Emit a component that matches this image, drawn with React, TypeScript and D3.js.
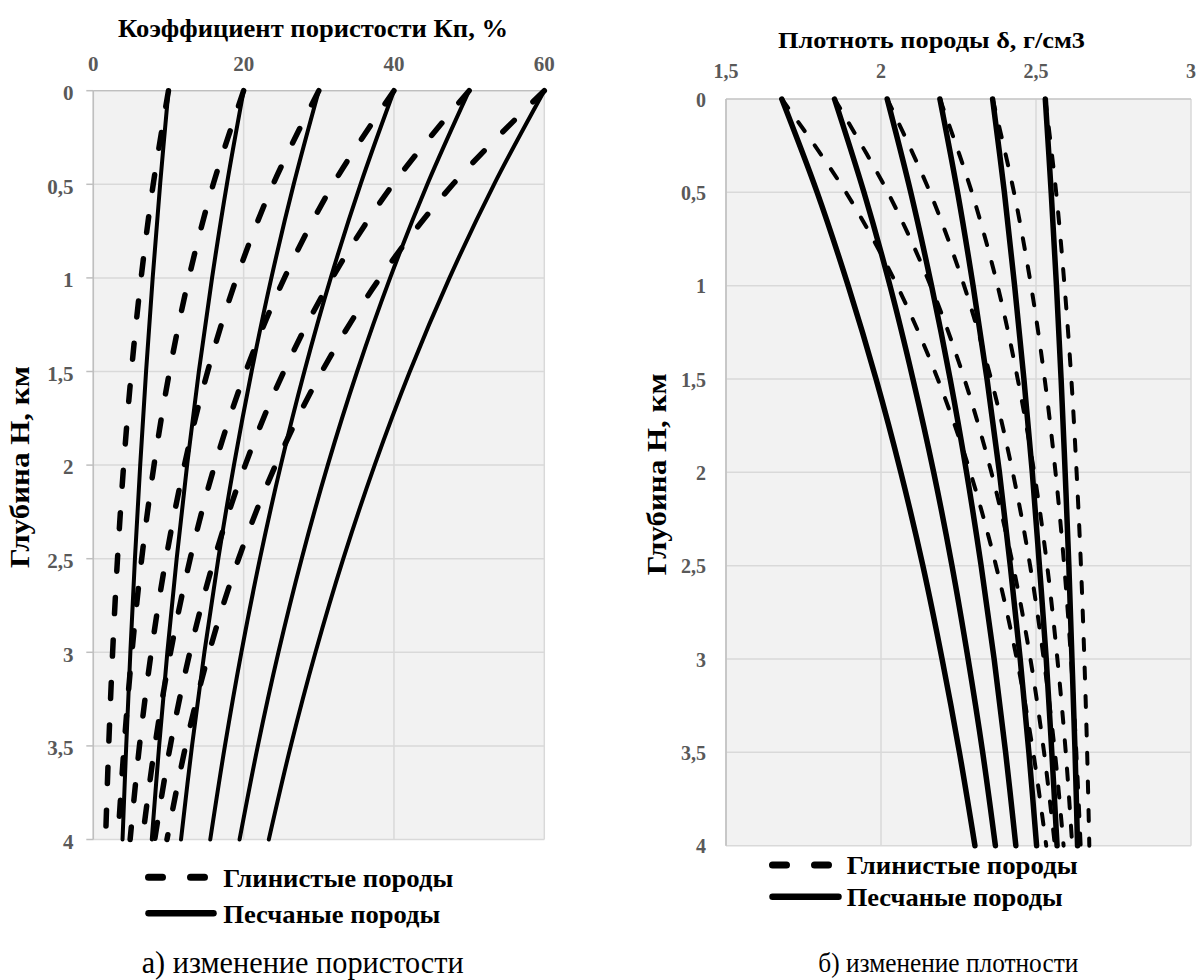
import React from "react";
import * as d3 from "d3";

// Depth points, km
const depths = [0, 0.5, 1, 1.5, 2, 2.5, 3, 3.5, 4];

// Porosity Kп, % — sandy rocks (solid)
const sandPorosity = [
  [10, 8.89, 7.9, 7.02, 6.24, 5.54, 4.93, 4.38, 3.89],
  [20, 17.77, 15.8, 14.04, 12.48, 11.09, 9.85, 8.76, 7.78],
  [30, 26.66, 23.69, 21.06, 18.71, 16.63, 14.78, 13.13, 11.67],
  [40, 35.55, 31.59, 28.08, 24.95, 22.17, 19.7, 17.51, 15.56],
  [50, 44.44, 39.49, 35.1, 31.19, 27.72, 24.63, 21.89, 19.46],
  [60, 53.32, 47.39, 42.11, 37.43, 33.26, 29.56, 26.27, 23.35],
];
// Porosity Kп, % — clayey rocks (dashed)
const clayPorosity = [
  [10, 7.97, 6.36, 5.07, 4.04, 3.22, 2.57, 2.05, 1.63],
  [20, 15.95, 12.71, 10.14, 8.08, 6.44, 5.14, 4.1, 3.27],
  [30, 23.92, 19.07, 15.21, 12.12, 9.67, 7.71, 6.14, 4.9],
  [40, 31.89, 25.43, 20.28, 16.16, 12.89, 10.28, 8.19, 6.53],
  [50, 39.87, 31.79, 25.35, 20.21, 16.11, 12.85, 10.24, 8.17],
  [60, 47.84, 38.14, 30.41, 24.25, 19.33, 15.41, 12.29, 9.8],
];
// Density δ, g/cm3 — sandy rocks (solid)
const sandDensity = [
  [1.68, 1.794, 1.894, 1.984, 2.064, 2.135, 2.197, 2.253, 2.303],
  [1.85, 1.945, 2.029, 2.103, 2.17, 2.229, 2.281, 2.328, 2.369],
  [2.02, 2.096, 2.163, 2.223, 2.276, 2.323, 2.365, 2.402, 2.435],
  [2.19, 2.247, 2.297, 2.342, 2.382, 2.417, 2.449, 2.477, 2.502],
  [2.36, 2.398, 2.431, 2.461, 2.488, 2.511, 2.533, 2.551, 2.568],
  [2.53, 2.549, 2.566, 2.581, 2.594, 2.606, 2.616, 2.626, 2.634],
];
// Density δ, g/cm3 — clayey rocks (dashed)
const clayDensity = [
  [1.68, 1.887, 2.052, 2.183, 2.288, 2.371, 2.438, 2.491, 2.533],
  [1.85, 2.022, 2.16, 2.269, 2.356, 2.426, 2.482, 2.526, 2.561],
  [2.02, 2.158, 2.268, 2.355, 2.425, 2.481, 2.525, 2.561, 2.589],
  [2.19, 2.293, 2.376, 2.441, 2.494, 2.536, 2.569, 2.596, 2.617],
  [2.36, 2.429, 2.484, 2.528, 2.563, 2.591, 2.613, 2.63, 2.644],
  [2.53, 2.565, 2.592, 2.614, 2.631, 2.645, 2.656, 2.665, 2.672],
];

const porosityTicks = [0, 20, 40, 60];
const porosityTickLabels = ["0", "20", "40", "60"];
const densityTicks = [1.5, 2, 2.5, 3];
const densityTickLabels = ["1,5", "2", "2,5", "3"];
const depthTicks = [0, 0.5, 1, 1.5, 2, 2.5, 3, 3.5, 4];
const depthTickLabels = ["0", "0,5", "1", "1,5", "2", "2,5", "3", "3,5", "4"];

const legendLabels = ["Глинистые породы", "Песчаные породы"];

const SERIF = "Liberation Serif, Tinos, Times New Roman, DejaVu Serif, serif";
const GRID = "#d9d9d9";
const AXIS = "#bfbfbf";
const LABEL = "#595959";

const serifStyle = { fontFamily: SERIF } as React.CSSProperties;

type PanelProps = {
  xDomain: [number, number];
  xRange: [number, number];
  yRange: [number, number];
  xTicks: number[];
  xTickLabels: string[];
  sand: number[][];
  clay: number[][];
  title: string;
  titleX: number;
  titleY: number;
  titleSize: number;
  titleLen: number;
  xLabelY: number;
  xLabelSize: number;
  yLabelRight: number;
  yLabelDy: number;
  yLabelSize: number;
  leftTicks: boolean;
  yTitleX: number;
  solidW: number;
  dashW: number;
  dashArray: string;
};

function Panel(p: PanelProps) {
  const x = d3.scaleLinear().domain(p.xDomain).range(p.xRange);
  const y = d3.scaleLinear().domain([0, 4]).range(p.yRange);
  const line = d3
    .line<number>()
    .x((v) => x(v))
    .y((_, i) => y(depths[i]))
    .curve(d3.curveCatmullRom.alpha(0.5));
  const [x0, x1] = p.xRange;
  const [y0, y1] = p.yRange;
  const yMid = (y0 + y1) / 2;
  return (
    <g>
      <rect x={x0} y={y0} width={x1 - x0} height={y1 - y0} fill="#f2f2f2" />
      {depthTicks.map((t) => (
        <line key={"h" + t} x1={x0} x2={x1} y1={y(t)} y2={y(t)} stroke={GRID} strokeWidth={1.5} />
      ))}
      {p.xTicks.map((t) => (
        <line key={"v" + t} x1={x(t)} x2={x(t)} y1={y0} y2={y1} stroke={GRID} strokeWidth={1.5} />
      ))}
      <line x1={x0} x2={x0} y1={y0} y2={y1} stroke={AXIS} strokeWidth={1.5} />
      <line x1={x0} x2={x1} y1={y0} y2={y0} stroke={AXIS} strokeWidth={1.2} />
      {p.leftTicks &&
        depthTicks.map((t) => (
          <line key={"t" + t} x1={x0 - 7} x2={x0} y1={y(t)} y2={y(t)} stroke={AXIS} strokeWidth={1.5} />
        ))}
      {p.sand.map((s, i) => (
        <path key={"s" + i} d={line(s) || ""} fill="none" stroke="#000" strokeWidth={p.solidW} strokeLinecap="round" />
      ))}
      {p.clay.map((s, i) => (
        <path
          key={"c" + i}
          d={line(s) || ""}
          fill="none"
          stroke="#000"
          strokeWidth={p.dashW}
          strokeDasharray={p.dashArray}
          strokeLinecap="round"
        />
      ))}
      {p.xTicks.map((t, i) => (
        <text
          key={"xl" + t}
          x={x(t)}
          y={p.xLabelY}
          textAnchor="middle"
          style={serifStyle}
          fontWeight="bold"
          fontSize={p.xLabelSize}
          fill={LABEL}
        >
          {p.xTickLabels[i]}
        </text>
      ))}
      {depthTicks.map((t, i) => (
        <text
          key={"yl" + t}
          x={p.yLabelRight}
          y={y(t) + p.yLabelDy}
          textAnchor="end"
          style={serifStyle}
          fontWeight="bold"
          fontSize={p.yLabelSize}
          fill={LABEL}
        >
          {depthTickLabels[i]}
        </text>
      ))}
      <text
        x={p.titleX}
        y={p.titleY}
        style={serifStyle}
        fontWeight="bold"
        fontSize={p.titleSize}
        textLength={p.titleLen}
        lengthAdjust="spacingAndGlyphs"
        fill="#000"
      >
        {p.title}
      </text>
      <text
        transform={`translate(${p.yTitleX},${yMid + 2}) rotate(-90)`}
        textAnchor="middle"
        style={serifStyle}
        fontWeight="bold"
        fontSize={27}
        textLength={202}
        lengthAdjust="spacingAndGlyphs"
        fill="#000"
      >
        Глубина Н, км
      </text>
    </g>
  );
}

type LegendProps = { x: number; y1: number; y2: number; textX: number; t1: number; t2: number; len1: number; len2: number; dashEnd: number; solidEnd: number };

function Legend(l: LegendProps) {
  return (
    <g>
      <line x1={l.x + 3.5} x2={l.dashEnd} y1={l.y1} y2={l.y1} stroke="#000" strokeWidth={7} strokeDasharray="14 28" strokeLinecap="round" />
      <line x1={l.x + 3.5} x2={l.solidEnd} y1={l.y2} y2={l.y2} stroke="#000" strokeWidth={6.5} strokeLinecap="round" />
      <text x={l.textX} y={l.t1} style={serifStyle} fontWeight="bold" fontSize={25} textLength={l.len1} lengthAdjust="spacingAndGlyphs">
        {legendLabels[0]}
      </text>
      <text x={l.textX} y={l.t2} style={serifStyle} fontWeight="bold" fontSize={25} textLength={l.len2} lengthAdjust="spacingAndGlyphs">
        {legendLabels[1]}
      </text>
    </g>
  );
}

export default function App() {
  return (
    <svg
      width={1198}
      height={980}
      style={{ position: "absolute", left: 0, top: 0, background: "#fff" }}
    >
      <rect x={0} y={0} width={1198} height={980} fill="#fff" />
      <Panel
        xDomain={[0, 60]}
        xRange={[93.3, 544.3]}
        yRange={[90.7, 839.5]}
        xTicks={porosityTicks}
        xTickLabels={porosityTickLabels}
        sand={sandPorosity}
        clay={clayPorosity}
        title="Коэффициент пористости Кп, %"
        titleX={118}
        titleY={36.7}
        titleSize={25}
        titleLen={390}
        xLabelY={71.3}
        xLabelSize={21}
        yLabelRight={73.5}
        yLabelDy={9.3}
        yLabelSize={21}
        leftTicks={true}
        yTitleX={29}
        solidW={4}
        dashW={5.5}
        dashArray="16 26.5"
      />
      <Panel
        xDomain={[1.5, 3]}
        xRange={[726, 1191]}
        yRange={[99, 845.7]}
        xTicks={densityTicks}
        xTickLabels={densityTickLabels}
        sand={sandDensity}
        clay={clayDensity}
        title="Плотноть породы δ, г/см3"
        titleX={778}
        titleY={48.3}
        titleSize={22.5}
        titleLen={307}
        xLabelY={77.5}
        xLabelSize={20}
        yLabelRight={706}
        yLabelDy={7.7}
        yLabelSize={20}
        leftTicks={false}
        yTitleX={666}
        solidW={5.5}
        dashW={4}
        dashArray="11 17.5"
      />
      <Legend x={145} y1={877.3} y2={913.3} textX={223.3} t1={886.7} t2={923} len1={230} len2={217} dashEnd={205} solidEnd={213.5} />
      <Legend x={769} y1={865} y2={896.7} textX={846.7} t1={874} t2={906} len1={231} len2={216} dashEnd={829.5} solidEnd={838.5} />
      <text x={141.7} y={972.7} style={serifStyle} fontSize={31} textLength={322} lengthAdjust="spacingAndGlyphs">
        а) изменение пористости
      </text>
      <text x={818.3} y={971.7} style={serifStyle} fontSize={28} textLength={260} lengthAdjust="spacingAndGlyphs">
        б) изменение плотности
      </text>
    </svg>
  );
}
